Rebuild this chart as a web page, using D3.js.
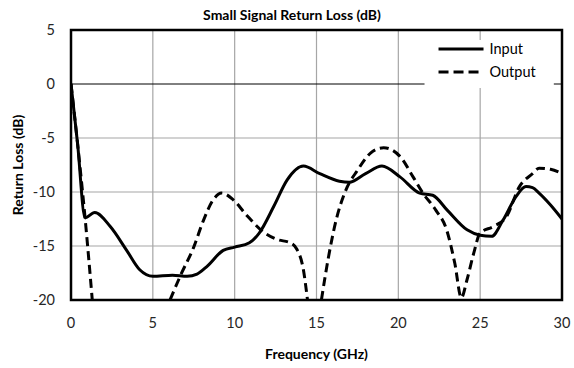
<!DOCTYPE html>
<html lang='en'>
<head>
	<meta charset='utf-8'>
	<title>Small Signal Return Loss</title>
	<script src="https://d3js.org/d3.v7.min.js"></script>
	<style>
		body{margin:0;background:#fff;}
		text{font-family:Lato,'Open Sans',sans-serif;}
	</style>
</head>
<body>
<div id='chart'></div>
<script type='text/javascript'>
	// values
	const xTicks = [0,5,10,15,20,25,30];
	const yTicks = [5,0,-5,-10,-15,-20];

	const inputFreq = [0,0.4,0.86,1.45,2.4,3.4,4.2,5.0,6.2,7.1,7.7,8.3,9.3,10.0,10.9,11.5,12.4,13.2,14.2,15.2,16.4,17.0,18.0,19.0,20.1,21.3,22.1,23.0,24.2,25.0,25.7,26.4,27.2,27.8,28.2,28.6,29.3,30.0];
	const inputLoss = [0,-5.5,-12.4,-11.9,-13.2,-15.4,-17.2,-17.8,-17.7,-17.8,-17.6,-16.9,-15.4,-15.1,-14.7,-13.8,-11.3,-8.9,-7.6,-8.3,-9.0,-9.1,-8.3,-7.6,-8.6,-10.1,-10.3,-11.7,-13.5,-14.0,-14.1,-12.6,-10.4,-9.5,-9.6,-10.1,-11.2,-12.5];

	// null = curve below the -20 dB floor (off the chart)
	const outputFreq = [0,0.4,0.86,1.3,3.5,6.05,6.7,7.5,8.1,8.7,9.2,9.9,10.7,11.75,12.6,13.4,13.8,14.2,14.45,14.9,15.3,15.7,16.2,16.8,17.5,18.3,19.1,20.1,20.9,21.5,22.3,22.95,23.45,23.85,24.2,24.6,25.0,25.8,26.6,27.4,28.2,28.6,29.3,30.0];
	const outputLoss = [0,-5.5,-12.4,-20,null,-20,-17.7,-15.1,-12.6,-10.7,-10.1,-10.7,-12.1,-13.7,-14.4,-14.7,-15.3,-17.2,-20,null,-20,-16.3,-12.6,-9.8,-8.0,-6.4,-5.9,-6.7,-8.6,-10.1,-11.7,-13.5,-16.6,-19.8,-18.1,-15.7,-13.8,-13.2,-12.3,-9.5,-8.3,-7.8,-7.9,-8.3];

	const seriesNames = ['Input','Output'];

	const svg_block = {width:574,height:368};
	let margin = {top:30,right:12,bottom:68,left:71};
	let width = svg_block.width - margin.left - margin.right;
	let height = svg_block.height - margin.top - margin.bottom;

	let svg = d3.select('#chart')
				.append('svg')
					.attr('width',svg_block.width)
					.attr('height',svg_block.height);

	let g = svg.append('g')
				.attr('transform',`translate(${margin.left},${margin.top})`);

	let x = d3.scaleLinear().domain([0,30]).range([0,width]);
	let y = d3.scaleLinear().domain([-20,5]).range([height,0]);

	//grid lines
	g.append('g')
		.selectAll('line')
		.data(xTicks.slice(1,-1))
		.join('line')
			.attr('x1',d=>x(d)).attr('x2',d=>x(d))
			.attr('y1',0).attr('y2',height)
			.attr('stroke','#a6a6a6').attr('stroke-width',1.2);
	g.append('g')
		.selectAll('line')
		.data(yTicks.filter(d=>d!==5 && d!==-20 && d!==0))
		.join('line')
			.attr('x1',0).attr('x2',width)
			.attr('y1',d=>y(d)).attr('y2',d=>y(d))
			.attr('stroke','#a6a6a6').attr('stroke-width',1.2);

	// zero line (category axis crosses here)
	g.append('line')
		.attr('x1',0).attr('x2',width)
		.attr('y1',y(0)).attr('y2',y(0))
		.attr('stroke','#000').attr('stroke-width',1);

	//tick labels
	g.append('g')
		.selectAll('text')
		.data(xTicks)
		.join('text')
			.attr('x',d=>x(d))
			.attr('y',height+28)
			.attr('text-anchor','middle')
			.style('font-size','14.5px')
			.attr('fill','#262626')
			.text(d=>d);
	g.append('g')
		.selectAll('text')
		.data(yTicks)
		.join('text')
			.attr('x',-16)
			.attr('y',d=>y(d)+5)
			.attr('text-anchor','end')
			.style('font-size','14.5px')
			.attr('fill','#262626')
			.text(d=>d);

	//curves
	svg.append('defs').append('clipPath').attr('id','clip')
		.append('rect').attr('x',0).attr('y',0).attr('width',width).attr('height',height);

	let line = d3.line()
				.defined(d=>d[1]!==null)
				.x(d=>x(d[0]))
				.y(d=>y(d[1]))
				.curve(d3.curveMonotoneX);

	let curves = g.append('g').attr('clip-path','url(#clip)');
	curves.append('path')
		.datum(inputFreq.map((f,i)=>[f,inputLoss[i]]))
		.attr('d',line)
		.attr('fill','none')
		.attr('stroke','#000')
		.attr('stroke-width',3);
	curves.append('path')
		.datum(outputFreq.map((f,i)=>[f,outputLoss[i]]))
		.attr('d',line)
		.attr('fill','none')
		.attr('stroke','#000')
		.attr('stroke-width',3)
		.attr('stroke-dasharray','9,5');

	//legend
	let legend = g.append('g').attr('transform',`translate(${x(21.6)},10)`);
	legend.append('rect')
		.attr('x',0).attr('y',0)
		.attr('width',x(29.5)-x(21.6)).attr('height',48)
		.attr('fill','#fff');
	seriesNames.forEach(function(name,i){
		legend.append('line')
			.attr('x1',14).attr('x2',59)
			.attr('y1',9+23*i).attr('y2',9+23*i)
			.attr('stroke','#000').attr('stroke-width',3)
			.attr('stroke-dasharray',i===1?'10,5':null);
		legend.append('text')
			.attr('x',65).attr('y',14+23*i)
			.style('font-size','14.5px')
			.attr('fill','#000')
			.text(name);
	});

	//plot border
	g.append('rect')
		.attr('x',0).attr('y',0)
		.attr('width',width).attr('height',height)
		.attr('fill','none')
		.attr('stroke','#000').attr('stroke-width',2.5);

	//titles
	svg.append('text')
		.attr('x',292).attr('y',20)
		.attr('text-anchor','middle')
		.style('font-size','14px').style('font-weight','bold')
		.text('Small Signal Return Loss (dB)');
	svg.append('text')
		.attr('x',margin.left+width/2).attr('y',359)
		.attr('text-anchor','middle')
		.style('font-size','14px').style('font-weight','bold')
		.text('Frequency (GHz)');
	svg.append('text')
		.attr('transform',`translate(23,${margin.top+height/2}) rotate(-90)`)
		.attr('text-anchor','middle')
		.style('font-size','14px').style('font-weight','bold')
		.text('Return Loss (dB)');
</script>
</body>
</html>
